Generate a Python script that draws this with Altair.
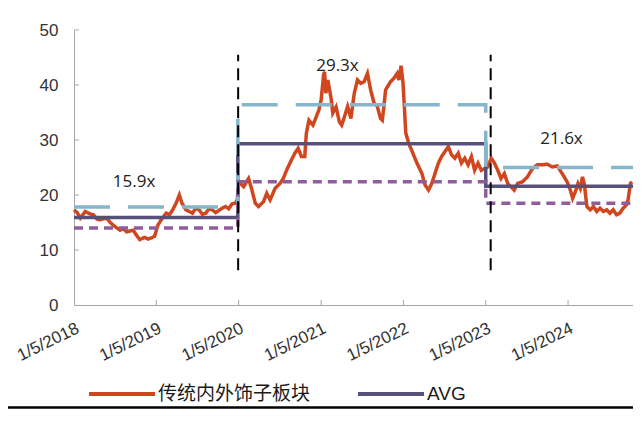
import altair as alt
import pandas as pd

# ---------------- data ----------------
SERIES = ["传统内外饰子板块", "AVG", "1STD", "-1STD"]
COLORS = ["#D0461F", "#56507A", "#86B6CB", "#8F5C9C"]
DASHES = [[1, 0], [1, 0], [36, 18], [9, 6]]

# PE series: time as decimal years, values in x
pe_years = [
    2018.011, 2018.050, 2018.088, 2018.148, 2018.200, 2018.248, 2018.290, 2018.328, 2018.409, 2018.450,
    2018.488, 2018.569, 2018.610, 2018.649, 2018.729, 2018.769, 2018.809, 2018.869, 2018.910, 2018.950,
    2018.989, 2019.029, 2019.070, 2019.130, 2019.170, 2019.209, 2019.250, 2019.290, 2019.322, 2019.370,
    2019.410, 2019.450, 2019.490, 2019.530, 2019.570, 2019.611, 2019.650, 2019.690, 2019.730, 2019.771,
    2019.810, 2019.851, 2019.890, 2019.931, 2019.971, 2019.995, 2020.006, 2020.031, 2020.071, 2020.131,
    2020.171, 2020.212, 2020.251, 2020.312, 2020.351, 2020.392, 2020.452, 2020.512, 2020.552, 2020.592,
    2020.652, 2020.693, 2020.732, 2020.772, 2020.813, 2020.832, 2020.864, 2020.912, 2020.952, 2020.985,
    2021.012, 2021.041, 2021.053, 2021.069, 2021.093, 2021.132, 2021.153, 2021.193, 2021.233, 2021.261,
    2021.294, 2021.333, 2021.373, 2021.414, 2021.453, 2021.493, 2021.534, 2021.574, 2021.613, 2021.654,
    2021.694, 2021.733, 2021.754, 2021.774, 2021.794, 2021.854, 2021.894, 2021.934, 2021.955, 2021.982,
    2022.006, 2022.022, 2022.039, 2022.075, 2022.114, 2022.175, 2022.235, 2022.274, 2022.315, 2022.355,
    2022.394, 2022.435, 2022.475, 2022.515, 2022.556, 2022.595, 2022.635, 2022.676, 2022.715, 2022.755,
    2022.796, 2022.836, 2022.875, 2022.916, 2022.956, 2022.995, 2023.036, 2023.076, 2023.116, 2023.156,
    2023.196, 2023.236, 2023.277, 2023.316, 2023.356, 2023.397, 2023.457, 2023.517, 2023.577, 2023.637,
    2023.697, 2023.757, 2023.818, 2023.878, 2023.938, 2023.998, 2024.037, 2024.065, 2024.098, 2024.130,
    2024.158, 2024.185, 2024.209, 2024.238, 2024.278, 2024.318, 2024.358, 2024.398, 2024.438, 2024.479,
    2024.518, 2024.558, 2024.599, 2024.638, 2024.678, 2024.719, 2024.738, 2024.767, 2024.786,
]
pe_values = [
    17.3, 16.8, 15.8, 17.0, 16.6, 16.4, 15.6, 15.5, 15.8, 15.0,
    14.5, 13.6, 13.9, 13.3, 13.6, 12.7, 11.9, 12.3, 12.0, 12.2,
    12.5, 14.5, 15.5, 16.7, 16.4, 17.3, 18.5, 20.0, 18.5, 17.3,
    17.0, 16.7, 17.6, 17.3, 16.5, 16.7, 17.5, 17.3, 16.8, 17.2,
    17.6, 17.9, 17.5, 18.4, 18.5, 19.2, 22.6, 22.1, 21.5, 23.0,
    20.9, 18.5, 17.9, 18.8, 20.3, 19.1, 21.2, 22.1, 23.0, 24.5,
    26.4, 27.6, 28.5, 27.0, 27.0, 31.2, 33.6, 32.7, 34.2, 35.5,
    37.3, 41.8, 42.4, 38.5, 40.9, 37.6, 34.9, 36.0, 33.3, 32.7,
    34.2, 36.1, 33.9, 38.5, 40.9, 40.3, 40.6, 42.1, 39.1, 36.7,
    36.1, 33.9, 33.6, 36.1, 39.1, 40.6, 41.2, 42.1, 40.9, 43.5,
    40.3, 36.1, 31.3, 29.4, 28.0, 25.8, 23.9, 21.8, 20.9, 22.1,
    23.9, 25.8, 27.0, 27.9, 28.8, 27.3, 26.7, 27.6, 25.8, 26.7,
    25.5, 27.0, 24.5, 25.8, 24.5, 24.8, 25.1, 26.7, 25.8, 24.5,
    23.0, 23.9, 22.1, 21.5, 20.9, 22.1, 22.4, 23.3, 24.8, 25.5,
    25.5, 25.6, 25.1, 25.3, 23.9, 22.4, 20.9, 19.4, 20.6, 22.1,
    21.2, 23.3, 21.8, 17.9, 17.3, 17.9, 17.0, 17.6, 17.0, 17.3,
    16.7, 17.3, 16.4, 16.7, 17.6, 18.2, 19.1, 22.1, 22.4,
]

# period levels (step lines): period starts + end of chart
level_years = [2018.011, 2020.000, 2023.010, 2024.800]
avg_levels = [15.9, 29.3, 21.6, 21.6]
up_levels = [17.8, 36.4, 25.0, 25.0]
dn_levels = [14.0, 22.4, 18.5, 18.5]

# period dividers
divider_years = [2020.004, 2023.070]
divider_low = [6.3, 6.3]
divider_high = [45.5, 45.5]

# annotations
note_text = ["15.9x", "29.3x", "21.6x"]
note_years = [2018.74, 2021.21, 2023.93]
note_values = [22.4, 43.5, 30.2]

tick_years = list(range(2018, 2025))
y_ticks = [0, 10, 20, 30, 40, 50]


def to_ts(years):
    base = pd.Timestamp("2018-01-01")
    return [base + pd.Timedelta(days=(y - 2018) * 365.25) for y in years]


pe_df = pd.DataFrame({"date": to_ts(pe_years), "value": pe_values, "series": SERIES[0]})
lvl_rows = []
for name, vals in zip(SERIES[1:], [avg_levels, up_levels, dn_levels]):
    for d, v in zip(to_ts(level_years), vals):
        lvl_rows.append({"date": d, "value": v, "series": name})
lvl_df = pd.DataFrame(lvl_rows)
div_df = pd.DataFrame({"date": to_ts(divider_years), "lo": divider_low, "hi": divider_high})
note_df = pd.DataFrame({"date": to_ts(note_years), "value": note_values, "text": note_text})
xt_df = pd.DataFrame({"date": [pd.Timestamp(year=y, month=1, day=5) for y in tick_years[1:]]})
yt_df = pd.DataFrame({"value": y_ticks[1:]})
one_df = pd.DataFrame({"a": [0]})

# ---------------- encodings ----------------
AXIS_GRAY = "#A6A6A6"
x_scale = alt.Scale(domain=[alt.DateTime(year=2018, month=1, date=5),
                            alt.DateTime(year=2024, month=10, date=19)])
y_scale = alt.Scale(domain=[0, 50])

x_enc = alt.X(
    "date:T", scale=x_scale, title=None,
    axis=alt.Axis(
        values=[alt.DateTime(year=y, month=1, date=5) for y in tick_years],
        format="%-m/%-d/%Y", formatType="time", labelAngle=334,
        labelAlign="right", labelBaseline="top", labelPadding=15,
        labelFont="Liberation Sans", labelFontSize=17, labelColor="#333333",
        domainColor=AXIS_GRAY, domainWidth=1, ticks=False, grid=False,
        labelOverlap=False, labelBound=False, labelFlush=False,
    ),
)
y_enc = alt.Y(
    "value:Q", scale=y_scale, title=None,
    axis=alt.Axis(
        values=y_ticks, labelFont="Liberation Sans", labelFontSize=17,
        labelColor="#333333", labelPadding=16, domainColor=AXIS_GRAY,
        domainWidth=1, ticks=False, grid=False,
    ),
)

legend = alt.Legend(
    title=None, orient="none", direction="horizontal", legendX=13, legendY=329, columns=2,
    symbolType="stroke", symbolSize=66 * 66, symbolStrokeWidth=4,
    labelFont="Liberation Sans, Noto Sans CJK SC", labelFontSize=19,
    labelColor="#1a1a1a", labelOffset=1, columnPadding=39, rowPadding=-37,
    padding=0, labelLimit=400,
)
color_enc = alt.Color("series:N", scale=alt.Scale(domain=SERIES, range=COLORS), legend=legend)
dash_enc = alt.StrokeDash("series:N", scale=alt.Scale(domain=SERIES, range=DASHES), legend=legend)

pe_line = alt.Chart(pe_df).mark_line(strokeWidth=3.5).encode(
    x=x_enc, y=y_enc, color=color_enc, strokeDash=dash_enc
)
lvl_line = alt.Chart(lvl_df).mark_line(strokeWidth=3.5, interpolate="step-after").encode(
    x="date:T", y="value:Q", color=color_enc, strokeDash=dash_enc,
    detail="series:N",
)
dividers = alt.Chart(div_df).mark_rule(color="black", strokeWidth=2, strokeDash=[12, 7]).encode(
    x="date:T", y="lo:Q", y2="hi:Q"
)
notes = alt.Chart(note_df).mark_text(
    font="Open Sans", fontSize=17, color="#222222", align="center", baseline="middle"
).encode(x="date:T", y="value:Q", text="text:N")
x_ticks = alt.Chart(xt_df).mark_rule(color=AXIS_GRAY, strokeWidth=1).encode(
    x="date:T", y=alt.value(275), y2=alt.value(270)
)
y_tick_marks = alt.Chart(yt_df).mark_rule(color=AXIS_GRAY, strokeWidth=1).encode(
    y="value:Q", x=alt.value(0), x2=alt.value(5)
)
separator = alt.Chart(one_df).mark_rule(color="black", strokeWidth=2.5).encode(
    x=alt.value(-66), x2=alt.value(559), y=alt.value(377.5)
)

chart = alt.layer(
    pe_line, lvl_line, dividers, notes, x_ticks, y_tick_marks, separator
).properties(
    width=559, height=275,
    padding={"left": 66, "top": 22, "right": 0, "bottom": 104},
    autosize=alt.AutoSizeParams(type="none"),
).configure_view(strokeWidth=0)

chart.save("out.html", embed_options={"renderer": "svg", "actions": False})
